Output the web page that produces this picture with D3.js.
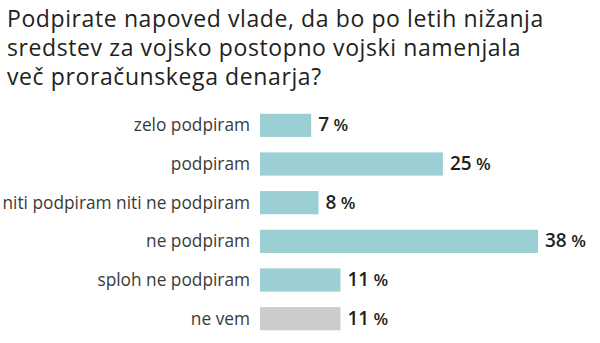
<!DOCTYPE html>
<html>
<head>
<meta charset="utf-8">
<script src="https://cdn.jsdelivr.net/npm/d3@7"></script>
<style>
  body { margin: 0; background: #fff; }
  svg { display: block; font-family: "Open Sans", sans-serif; }
</style>
</head>
<body>
<div id="chart"></div>
<script>
(function () {
"use strict";

var titleLines = ["Podpirate napoved vlade, da bo po letih nižanja",
	"sredstev za vojsko postopno vojski namenjala",
	"več proračunskega denarja?"];
var categories = ["zelo podpiram", "podpiram", "niti podpiram niti ne podpiram",
	"ne podpiram", "sploh ne podpiram", "ne vem"];
var values = [7, 25, 8, 38, 11, 11];
var colours = ["#9ccfd3", "#9ccfd3", "#9ccfd3", "#9ccfd3", "#9ccfd3", "#cccccc"];

var width = 600,
	height = 343;

var svg = d3.select("#chart").append("svg")
	.attr("width", width)
	.attr("height", height);

// title
svg.append("g").selectAll("text").data(titleLines)
	.enter().append("text")
		.attr("x", 7)
		.attr("y", function (d, i) { return 27 + i * 29; })
		.attr("font-size", 23)
		.attr("font-weight", 500)
		.attr("letter-spacing", 0.6)
		.attr("fill", "#231f20")
		.text(function (d) { return d; });

var x = d3.scaleLinear()
	.domain([0, 38])
	.range([260, 538]);

var y = d3.scaleBand()
	.domain(categories)
	.range([106, 338])
	.paddingInner(0.4)
	.paddingOuter(0.2);

var rows = svg.append("g").selectAll("g").data(categories)
	.enter().append("g");

rows.append("rect")
	.attr("x", x(0))
	.attr("y", function (d) { return y(d); })
	.attr("width", function (d, i) { return x(values[i]) - x(0); })
	.attr("height", y.bandwidth())
	.style("fill", function (d, i) { return colours[i]; });

rows.append("text")
	.attr("x", 250)
	.attr("y", function (d) { return y(d) + y.bandwidth() / 2; })
	.attr("dy", "0.35em")
	.attr("text-anchor", "end")
	.attr("font-size", 17.3)
	.attr("fill", "#3a3a3a")
	.text(function (d) { return d; });

var vals = rows.append("text")
	.attr("x", function (d, i) { return x(values[i]) + 7; })
	.attr("y", function (d) { return y(d) + y.bandwidth() / 2; })
	.attr("dy", "0.38em")
	.attr("fill", "#231f20");
vals.append("tspan")
	.attr("font-size", 19)
	.attr("font-weight", 600)
	.text(function (d, i) { return values[i]; });
vals.append("tspan")
	.attr("font-size", 17)
	.attr("font-weight", 600)
	.text(" %");

})();
</script>
</body>
</html>
